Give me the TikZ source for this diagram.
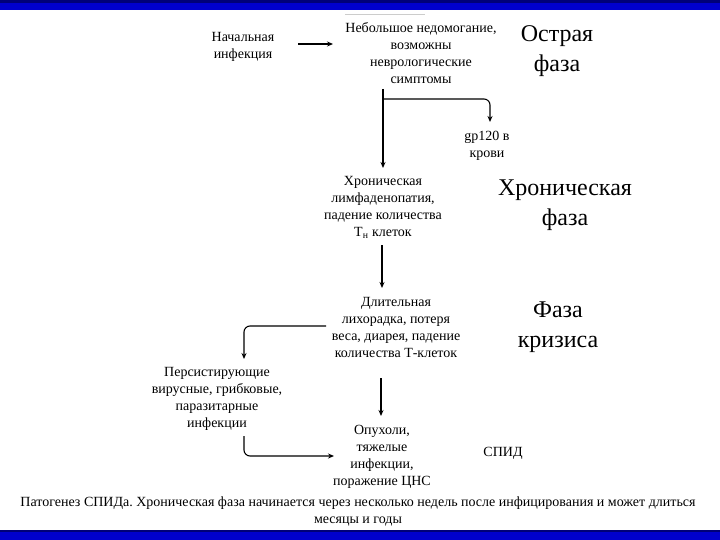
\documentclass[tikz,border=0pt]{standalone}
\usepackage{fontspec}
\setmainfont{Liberation Serif}
\newfontfamily\serifru{Liberation Serif}
\usetikzlibrary{arrows.meta}
\definecolor{barblue}{RGB}{0,0,205}
\definecolor{bardark}{RGB}{0,0,120}
\frenchspacing
\begin{document}
\begin{tikzpicture}[x=1pt,y=-1pt,
  txt/.style={align=center, font=\serifru\fontsize{14}{17}\selectfont, inner sep=0pt},
  big/.style={align=center, font=\serifru\fontsize{24}{30}\selectfont, inner sep=0pt},
  arr/.style={-{Stealth[length=6pt,width=5pt]}, line width=1.1pt, rounded corners=6pt}]
\useasboundingbox (0,0) rectangle (720,540);
% bars
\fill[barblue] (0,0) rectangle (720,10);
\fill[bardark] (0,0) rectangle (720,3);
\fill[barblue] (0,530) rectangle (720,540);
\fill[bardark] (0,530) rectangle (720,532);
\draw[gray!40, line width=0.8pt] (345,14) -- (425,14);
% texts
\node[txt] (init) at (243,47) {Начальная\\инфекция};
\node[txt] (sympt) at (421,53) {Небольшое недомогание,\\возможны\\неврологические\\симптомы};
\node[big] (acute) at (557,51) {Острая\\фаза};
\node[txt] (gp) at (487,146) {gp120 в\\крови};
\node[txt] (chron) at (383,207) {Хроническая\\лимфаденопатия,\\падение количества\\T\textsubscript{н} клеток};
\node[big] (chronph) at (565,205) {Хроническая\\фаза};
\node[txt] (long) at (396,327) {Длительная\\лихорадка, потеря\\веса, диарея, падение\\количества Т-клеток};
\node[big] (crisis) at (558,327) {Фаза\\кризиса};
\node[txt] (pers) at (217,399) {Персистирующие\\вирусные, грибковые,\\паразитарные\\инфекции};
\node[txt] (tumor) at (382,457) {Опухоли,\\тяжелые\\инфекции,\\поражение ЦНС};
\node[txt] (aids) at (503,453) {СПИД};
\node[txt] (caption) at (358,511) {Патогенез СПИДа. Хроническая фаза начинается через несколько недель после инфицирования и может длиться\\месяцы и годы};
% connector coordinates
\coordinate (a1) at (298,44);
\coordinate (a2) at (333,44);
\coordinate (v1) at (383,89);
\coordinate (v2) at (383,168);
\coordinate (b1) at (383,99);
\coordinate (b2) at (490,99);
\coordinate (b3) at (490,122);
\coordinate (c1) at (382,245);
\coordinate (c2) at (382,288);
\coordinate (d1) at (326,326);
\coordinate (d2) at (244,326);
\coordinate (d3) at (244,359);
\coordinate (e1) at (381,378);
\coordinate (e2) at (381,416);
\coordinate (f1) at (244,436);
\coordinate (f2) at (244,456);
\coordinate (f3) at (334,456);
% connectors
\draw[arr] (a1) -- (a2);
\draw[arr] (v1) -- (v2);
\draw[arr] (b1) -- (b2) -- (b3);
\draw[arr] (c1) -- (c2);
\draw[arr] (d1) -- (d2) -- (d3);
\draw[arr] (e1) -- (e2);
\draw[arr] (f1) -- (f2) -- (f3);
\end{tikzpicture}
\end{document}
